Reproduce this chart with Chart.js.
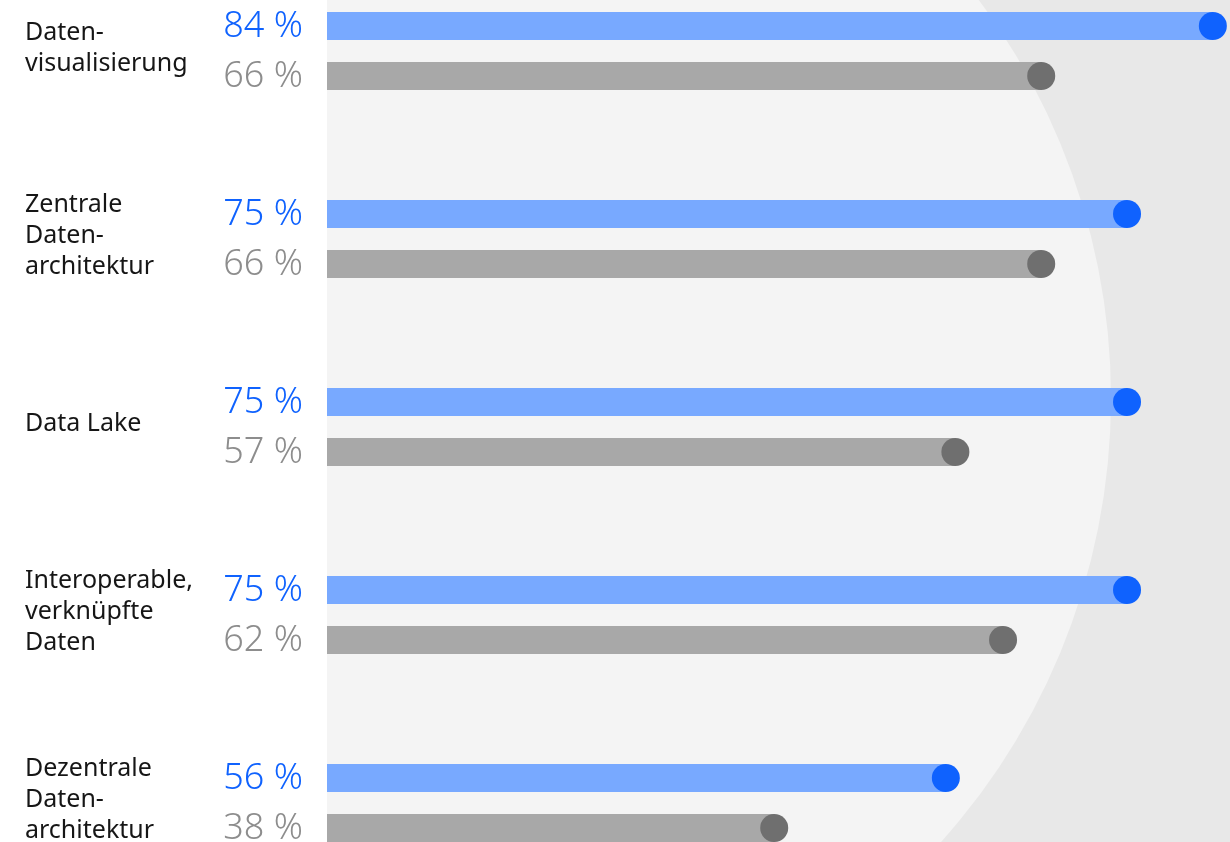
<!DOCTYPE html>
<html>
<head>
<meta charset="utf-8">
<script src="https://cdn.jsdelivr.net/npm/chart.js@4"></script>
<style>
  html, body { margin: 0; padding: 0; background: #ffffff; overflow: hidden; }
</style>
</head>
<body>
<canvas id="chart0" width="1230" height="842"></canvas>
<script>
var categories = [
  ["Daten-", "visualisierung"],
  ["Zentrale", "Daten-", "architektur"],
  ["Data Lake"],
  ["Interoperable,", "verknüpfte", "Daten"],
  ["Dezentrale", "Daten-", "architektur"]
];
var seriesBlue = [84, 75, 75, 75, 56];
var seriesGray = [66, 66, 57, 62, 38];

var axisMin = -8.9;
var axisMax = 85.8;

document.addEventListener("DOMContentLoaded", function() {
  var chartCanvas0 = document.getElementById("chart0").getContext("2d");

  // background: white left strip, grey panel, big light circle
  var backdrop = {
    id: "backdrop",
    beforeDraw: function(chart) {
      var ctx = chart.ctx;
      var left = chart.chartArea.left;
      ctx.save();
      ctx.fillStyle = "#ffffff";
      ctx.fillRect(0, 0, chart.width, chart.height);
      ctx.fillStyle = "#e8e8e8";
      ctx.fillRect(left, 0, chart.width - left, chart.height);
      ctx.beginPath();
      ctx.rect(left, 0, chart.width - left, chart.height);
      ctx.clip();
      ctx.beginPath();
      ctx.arc(446, 398, 665, 0, Math.PI * 2);
      ctx.fillStyle = "#f4f4f4";
      ctx.fill();
      ctx.restore();
    }
  };

  var dotsAndLabels = {
    id: "dotsAndLabels",
    afterDatasetsDraw: function(chart) {
      var ctx = chart.ctx;
      var left = chart.chartArea.left;
      ctx.save();
      chart.data.datasets.forEach(function(ds, i) {
        var meta = chart.getDatasetMeta(i);
        meta.data.forEach(function(bar, j) {
          ctx.beginPath();
          ctx.arc(bar.x, bar.y, 14, 0, Math.PI * 2);
          ctx.fillStyle = ds.dotColor;
          ctx.fill();

          ctx.fillStyle = ds.textColor;
          ctx.font = "300 36px 'Noto Sans', sans-serif";
          ctx.textAlign = "right";
          ctx.textBaseline = "middle";
          ctx.fillText(ds.data[j] + " %", left - 24, bar.y + 1);
        });
      });

      var yScale = chart.scales.y;
      ctx.fillStyle = "#161616";
      ctx.font = "25px 'Noto Sans', sans-serif";
      ctx.textAlign = "left";
      ctx.textBaseline = "middle";
      categories.forEach(function(lines, j) {
        var cy = yScale.getPixelForValue(j) - 3;
        lines.forEach(function(line, k) {
          ctx.fillText(line, 25, cy + (k - (lines.length - 1) / 2) * 31);
        });
      });
      ctx.restore();
    }
  };

  var chartData0 = {
    labels: categories.map(function(c) { return c.join(" "); }),
    datasets: [
      {
        label: "Blau",
        data: seriesBlue,
        backgroundColor: "#78a9ff",
        dotColor: "#0f62fe",
        textColor: "#0f62fe",
        base: axisMin,
        borderWidth: 0,
        barPercentage: 0.56,
        categoryPercentage: 0.532,
        clip: false
      },
      {
        label: "Grau",
        data: seriesGray,
        backgroundColor: "#a8a8a8",
        dotColor: "#6f6f6f",
        textColor: "#8d8d8d",
        base: axisMin,
        borderWidth: 0,
        barPercentage: 0.56,
        categoryPercentage: 0.532,
        clip: false
      }
    ]
  };

  var chart0 = new Chart(chartCanvas0, {
    type: "bar",
    data: chartData0,
    options: {
      responsive: false,
      animation: false,
      indexAxis: "y",
      layout: { padding: { left: 327, right: 0, top: 51, bottom: 39 } },
      plugins: {
        legend: { display: false },
        tooltip: { enabled: false }
      },
      scales: {
        x: { display: false, min: axisMin, max: axisMax, grid: { display: false } },
        y: { display: false, offset: false, grid: { display: false } }
      }
    },
    plugins: [backdrop, dotsAndLabels]
  });
});
</script>
</body>
</html>
